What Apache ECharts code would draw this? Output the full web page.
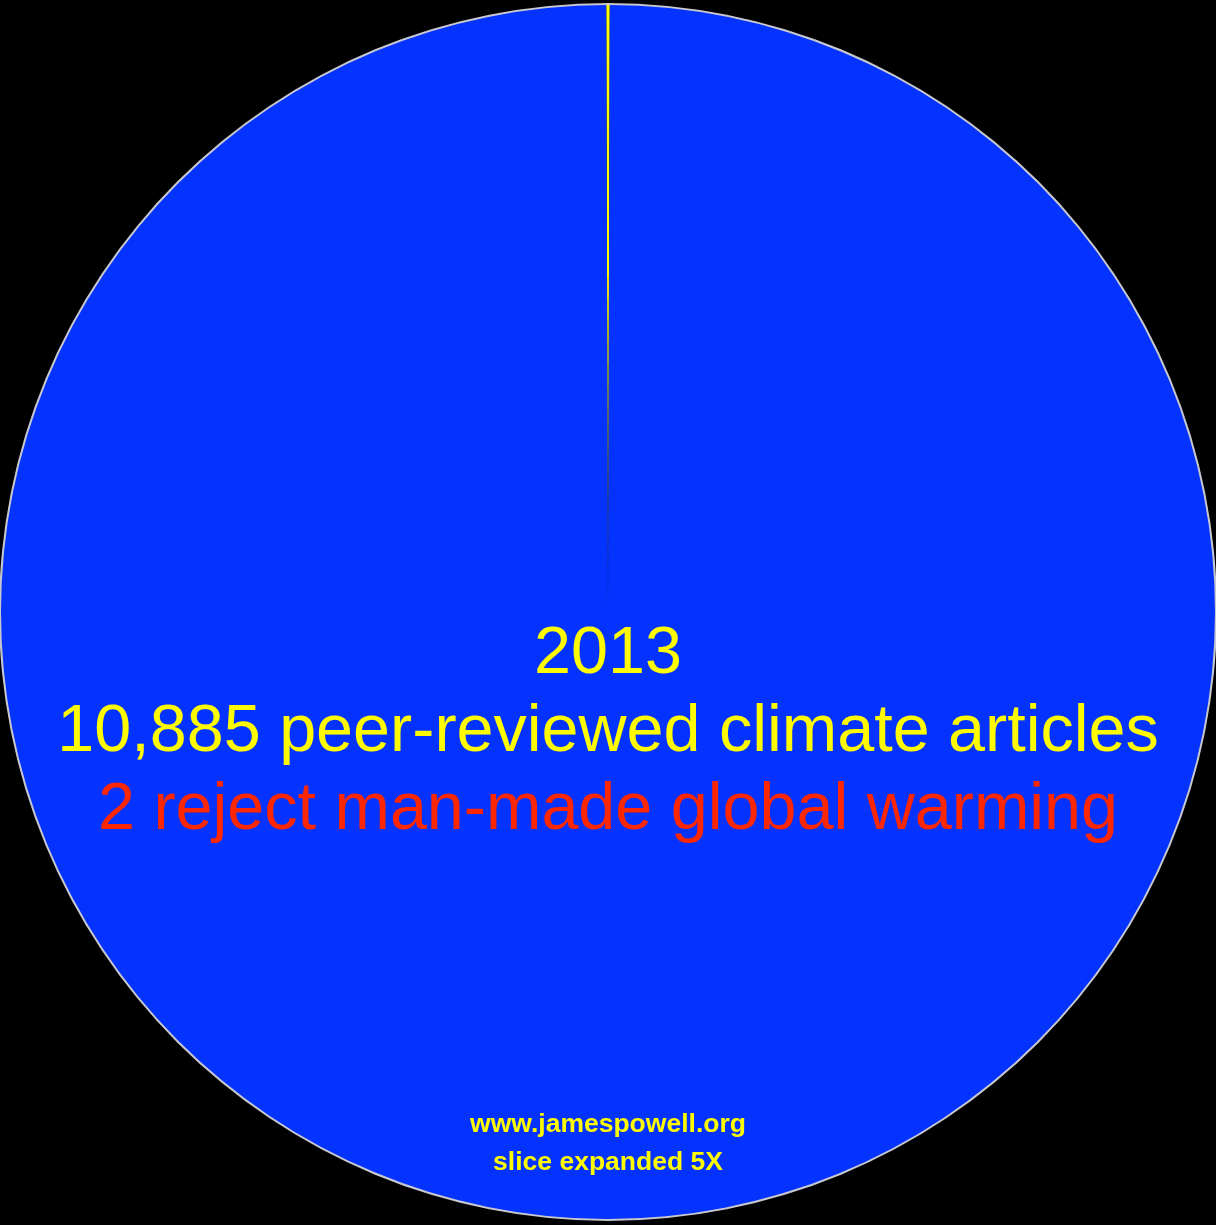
<!DOCTYPE html>
<html>
<head>
<meta charset="utf-8">
<script src="https://cdn.jsdelivr.net/npm/echarts@6/dist/echarts.min.js"></script>
<style>
  html, body { margin: 0; padding: 0; background: #000; }
  #chart { width: 1216px; height: 1225px; }
</style>
</head>
<body>
<div id="chart"></div>
<script>
// slice names and values (reject slice drawn 5x larger, as in the original)
const categories = ['Accept', 'Reject']
const values = [10875, 10]
const colors = ['#0433ff', '#fffb00']

const yearText = '2013'
const articlesText = '10,885 peer-reviewed climate articles'
const rejectText = '2 reject man-made global warming'
const sourceText = 'www.jamespowell.org'
const noteText = 'slice expanded 5X'

const myChart = echarts.init(document.getElementById('chart'))

const font = '"Liberation Sans", Arial, Helvetica, sans-serif'

let option = {
  backgroundColor: '#000',
  animation: false,
  series: [
    {
      // thin grey rim round the pie
      type: 'pie',
      silent: true,
      center: [608, 612],
      radius: [606, 609],
      label: { show: false },
      labelLine: { show: false },
      itemStyle: { color: '#c8c8d0', borderWidth: 0 },
      data: [{ value: 1, name: 'rim' }],
    },
    {
      type: 'pie',
      center: [608, 612],
      radius: [0, 607],
      startAngle: 90.165,
      clockwise: true,
      label: { show: false },
      labelLine: { show: false },
      emphasis: { disabled: true },
      itemStyle: { borderWidth: 0 },
      data: [
        { value: values[1], name: categories[1], itemStyle: { color: colors[1] } },
        { value: values[0], name: categories[0], itemStyle: { color: colors[0] } },
      ],
    },
  ],
  graphic: [
    {
      type: 'text', left: 'center', top: 621, z: 100,
      style: { text: yearText, fill: '#fffb00', font: '66.5px ' + font },
    },
    {
      type: 'text', left: 'center', top: 699, z: 100,
      style: { text: articlesText, fill: '#fffb00', font: '66.5px ' + font },
    },
    {
      type: 'text', left: 'center', top: 777, z: 100,
      style: { text: rejectText, fill: '#ff2600', font: '66.5px ' + font },
    },
    {
      type: 'text', left: 'center', top: 1111, z: 100,
      style: { text: sourceText, fill: '#fffb00', font: 'bold 26.5px ' + font },
    },
    {
      type: 'text', left: 'center', top: 1149, z: 100,
      style: { text: noteText, fill: '#fffb00', font: 'bold 26.5px ' + font },
    },
  ],
}
myChart.setOption(option)
</script>
</body>
</html>
